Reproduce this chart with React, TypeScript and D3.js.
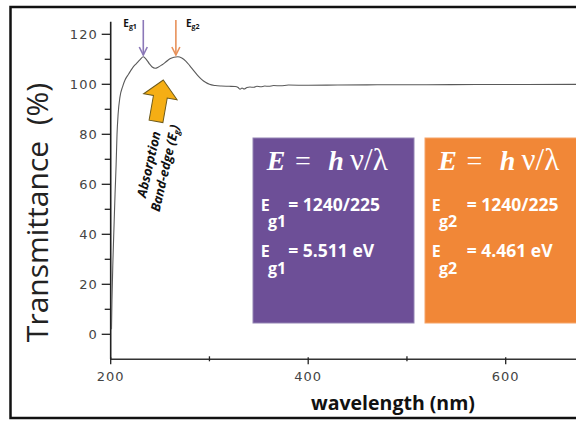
import React from "react";
import * as d3 from "d3";

// spectrum
const wavelength = [200.8, 201.3, 202.3, 203.5, 204.4, 205.5, 206.4, 207.5, 209.4, 212, 214.5, 218, 222, 226, 230, 233, 236, 239, 242, 245, 248, 252, 256, 260, 264, 268, 272, 276, 280, 284, 288, 292, 296, 300, 306, 312, 320, 326, 329, 331, 333, 335, 338, 341, 345, 348, 352, 356, 360, 365, 372, 380, 400, 430, 470, 520, 570, 620, 680];
const transmittance = [2, 14, 30, 45, 56, 68, 80, 88, 95, 99, 101.7, 104, 106.5, 108.3, 110, 111, 110, 108.3, 106.9, 106.4, 106.8, 107.8, 109, 110.2, 110.8, 111, 110.5, 109.3, 107.5, 105.5, 103.6, 102, 100.8, 100, 99.5, 99.3, 99.2, 99.1, 98.7, 98, 98.5, 98.1, 98.7, 98.9, 98.8, 99.2, 99, 99.3, 99.2, 99.5, 99.4, 99.7, 99.6, 99.7, 99.8, 99.8, 99.9, 99.9, 100];

const xTicks = [200, 400, 600];
const xMinor = [300, 500];
const yTicks = [0, 20, 40, 60, 80, 100, 120];
const yMinor = [10, 30, 50, 70, 90, 110];

const peaks = [
  { name: "g1", wl: 233, color: "#8b78b8" },
  { name: "g2", wl: 266, color: "#e8915a" },
];

const boxes = [
  { sub: "g1", line1: "= 1240/225", line2: "= 5.511 eV", fill: "#6d4f97", edge: "#9384b3" },
  { sub: "g2", line1: "= 1240/225", line2: "= 4.461 eV", fill: "#f18737", edge: "#f6a468" },
];

export default function App() {
  const x = d3.scaleLinear().domain([200, 600]).range([110.7, 505.7]);
  const y = d3.scaleLinear().domain([-10, 125]).range([359.3, 21.8]);

  const pts = wavelength.map((w, i) => [w, transmittance[i]] as [number, number]);
  const line = d3
    .line<[number, number]>()
    .x((d) => x(d[0]))
    .y((d) => y(d[1]))
    .curve(d3.curveMonotoneX);

  const axisColor = "#222";
  const tickFont = "DejaVu Sans, sans-serif";
  const x0 = x(200);
  const yBase = y(-10);

  // yellow block arrow, tip at origin pointing up
  const arrowPts = [[0, 0], [17, 17], [7, 17], [7, 42], [-7, 42], [-7, 17], [-17, 17]];

  return (
    <svg width={576} height={421} style={{ position: "absolute", left: 0, top: 0 }}>
      <rect x={0} y={0} width={576} height={421} fill="#fff" />
      <rect x={10.5} y={7} width={620} height={411} fill="none" stroke="#111" strokeWidth={2.5} />

      {/* boxes */}
      {boxes.map((b, i) => {
        const bx = 253 + i * 172;
        const eqShift = i === 0 ? 27.6 : 35;
        const fx = 266.7 + i * 171.5;
        return (
          <g key={b.sub}>
            <rect x={bx} y={138} width={161} height={185} fill={b.fill} stroke={b.edge} strokeWidth={1} />
            <text y={170} fill="#fff" fontFamily="Liberation Serif, serif" fontSize={28}>
              <tspan x={fx} fontWeight="bold" fontStyle="italic">E</tspan>
              <tspan x={fx + 28.3}>=</tspan>
              <tspan x={fx + 61.6} fontWeight="bold" fontStyle="italic">h</tspan>
              <tspan x={fx + 83.3} fontSize={31}>ν/λ</tspan>
            </text>
            {[b.line1, b.line2].map((t, j) => {
              const by = 210.7 + j * 46.6;
              const ex = 260.7 + i * 171;
              return (
                <g key={j} fill="#fff" fontFamily="Open Sans, sans-serif" fontWeight="bold">
                  <text x={ex} y={by} fontSize={16}>E</text>
                  <text x={ex + 7.3} y={by + 16.3} fontSize={16}>{b.sub}</text>
                  <text x={ex + eqShift} y={by} fontSize={17.5}>{t}</text>
                </g>
              );
            })}
          </g>
        );
      })}

      {/* axes */}
      <line x1={x0} x2={x0} y1={yBase} y2={y(125)} stroke={axisColor} strokeWidth={1.6} />
      <line x1={x0} x2={580} y1={yBase} y2={yBase} stroke="#333" strokeWidth={1.6} />
      {yTicks.map((t) => (
        <g key={t}>
          <line x1={x0 - 9} x2={x0} y1={y(t)} y2={y(t)} stroke={axisColor} strokeWidth={1.3} />
          <text x={x0 - 13} y={y(t)} dy="0.36em" textAnchor="end" fontFamily={tickFont} fontSize={13} letterSpacing={1} fill="#444">{t}</text>
        </g>
      ))}
      {yMinor.map((t) => (
        <line key={t} x1={x0 - 6} x2={x0} y1={y(t)} y2={y(t)} stroke={axisColor} strokeWidth={1.3} />
      ))}
      {xTicks.map((t) => (
        <g key={t}>
          <line x1={x(t)} x2={x(t)} y1={yBase - 2} y2={yBase + 5} stroke={axisColor} strokeWidth={1.3} />
          <text x={x(t)} y={381} textAnchor="middle" fontFamily={tickFont} fontSize={13} letterSpacing={1} fill="#444">{t}</text>
        </g>
      ))}
      {xMinor.map((t) => (
        <line key={t} x1={x(t)} x2={x(t)} y1={yBase - 3} y2={yBase + 2} stroke={axisColor} strokeWidth={1.3} />
      ))}

      {/* spectrum */}
      <path d={line(pts) ?? ""} fill="none" stroke="#5a5a5a" strokeWidth={1.1} />

      {/* peak arrows */}
      {peaks.map((p) => {
        const px = x(p.wl);
        return (
          <g key={p.name}>
            <line x1={px} x2={px} y1={20} y2={55} stroke={p.color} strokeWidth={1.6} />
            <path d={`M${px - 4},${47} L${px},${55} L${px + 4},${47}`} fill="none" stroke={p.color} strokeWidth={1.6} />
            <text x={p.name === "g1" ? px - 20 : px + 10} y={27} fontFamily="Open Sans, sans-serif" fontWeight="bold" fontSize={10} fill="#111">
              E<tspan fontSize={7} dy={2}>{p.name}</tspan>
            </text>
          </g>
        );
      })}

      {/* band-edge arrow */}
      <polygon
        points={arrowPts.map((p) => p.join(",")).join(" ")}
        transform="translate(163.3,80) rotate(10)"
        fill="#f5ae14"
        stroke="#6d5a1c"
        strokeWidth={1}
      />
      <g transform="translate(156.7,166.2) rotate(-77)" fontFamily="Open Sans, sans-serif" fontWeight="bold" fontStyle="italic" fontSize={13} fill="#111" textAnchor="middle">
        <text x={0} y={-3.5}>Absorption</text>
        <text x={0} y={13}>Band-edge (E<tspan fontSize={8.5} dy={2}>g</tspan><tspan dy={-2}>)</tspan></text>
      </g>

      {/* titles */}
      <text transform="translate(48,212.5) rotate(-90)" textAnchor="middle" fontFamily="Open Sans, sans-serif" fontSize={30} fill="#222" style={{ whiteSpace: "pre" }}>
        {"Transmittance  (%)"}
      </text>
      <text x={393} y={410} textAnchor="middle" fontFamily="Open Sans, sans-serif" fontWeight="bold" fontSize={19.5} fill="#111">
        wavelength (nm)
      </text>
    </svg>
  );
}
